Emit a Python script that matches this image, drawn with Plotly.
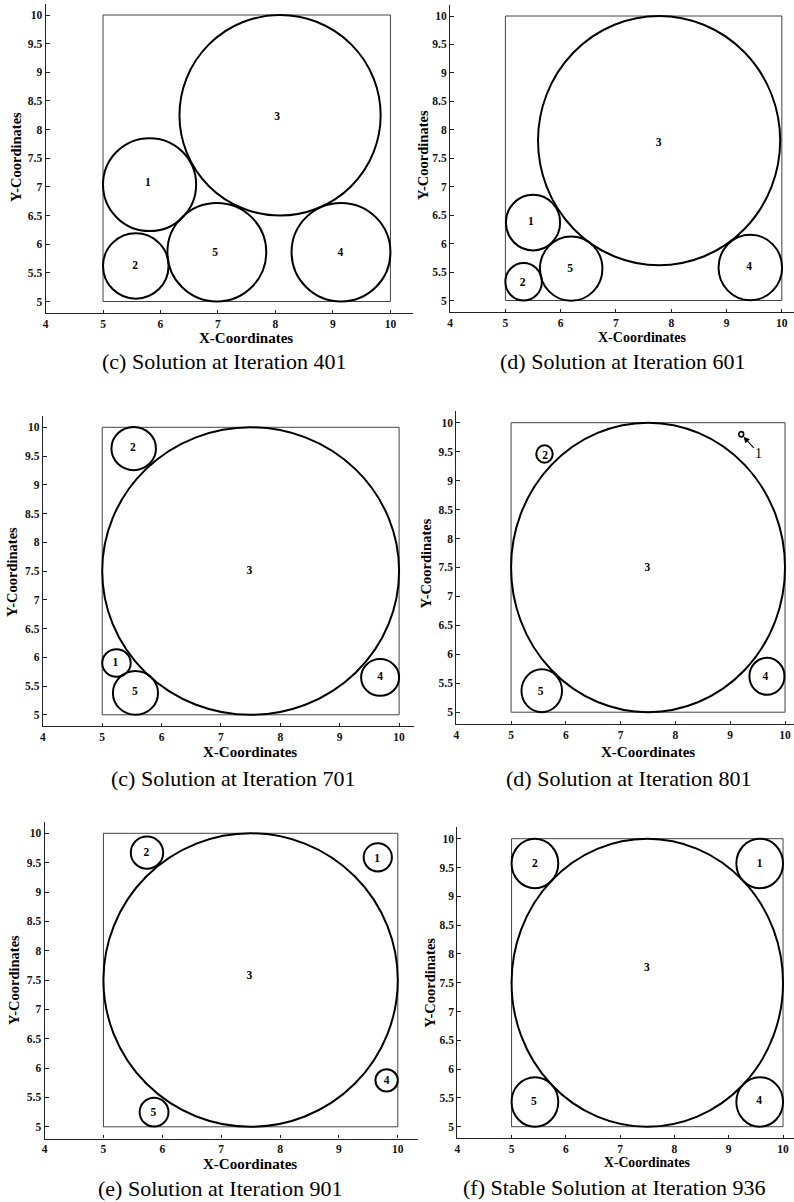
import plotly.graph_objects as go

W, H = 794, 1202

# ---------------- data ----------------
captions = [
    "(c) Solution at Iteration 401",
    "(d) Solution at Iteration 601",
    "(c) Solution at Iteration 701",
    "(d) Solution at Iteration 801",
    "(e) Solution at Iteration 901",
    "(f) Stable Solution at Iteration 936",
]
circle_ids = ["1", "2", "3", "4", "5"]

# circle centres / radii per panel (order: circle 1..5)
p401_cx = [5.81, 5.57, 8.08, 9.14, 6.98]
p401_cy = [7.04, 5.62, 8.25, 5.86, 5.86]
p401_r = [0.81, 0.57, 1.75, 0.86, 0.86]
p401_lx = [5.78, 5.56, 8.03, 9.13, 6.95]
p401_ly = [7.07, 5.62, 8.22, 5.84, 5.84]

p601_cx = [5.50, 5.33, 7.78, 9.43, 6.19]
p601_cy = [6.37, 5.33, 7.81, 5.58, 5.56]
p601_r = [0.49, 0.33, 2.19, 0.575, 0.565]
p601_lx = [5.46, 5.31, 7.77, 9.41, 6.17]
p601_ly = [6.37, 5.31, 7.77, 5.58, 5.55]

p701_cx = [5.24, 5.53, 7.50, 9.68, 5.56]
p701_cy = [5.90, 9.63, 7.50, 5.65, 5.38]
p701_r = [0.24, 0.375, 2.50, 0.32, 0.38]
p701_lx = [5.22, 5.515, 7.48, 9.68, 5.55]
p701_ly = [5.90, 9.63, 7.50, 5.65, 5.39]

p801_cx = [9.20, 5.61, 7.50, 9.67, 5.56]
p801_cy = [9.80, 9.46, 7.50, 5.62, 5.37]
p801_r = [0.045, 0.15, 2.50, 0.32, 0.37]
p801_lx = [None, 5.62, 7.49, 9.64, 5.54]
p801_ly = [None, 9.43, 7.49, 5.61, 5.34]
p801_callout_x, p801_callout_y = 9.52, 9.47   # label "1" with arrow

p901_cx = [9.66, 5.74, 7.50, 9.81, 5.86]
p901_cy = [9.59, 9.67, 7.50, 5.79, 5.25]
p901_r = [0.24, 0.275, 2.50, 0.19, 0.245]
p901_lx = [9.65, 5.73, 7.48, 9.81, 5.85]
p901_ly = [9.56, 9.67, 7.57, 5.78, 5.23]

p936_cx = [9.57, 5.43, 7.50, 9.57, 5.43]
p936_cy = [9.57, 9.57, 7.50, 5.43, 5.43]
p936_r = [0.43, 0.43, 2.50, 0.43, 0.43]
p936_lx = [9.57, 5.43, 7.49, 9.56, 5.41]
p936_ly = [9.555, 9.55, 7.75, 5.45, 5.43]

x_ticks = [4, 5, 6, 7, 8, 9, 10]
x_ticktext = ["4", "5", "6", "7", "8", "9", "10"]
y_ticks = [5, 5.5, 6, 6.5, 7, 7.5, 8, 8.5, 9, 9.5, 10]
y_ticktext = ["5", "5.5", "6", "6.5", "7", "7.5", "8", "8.5", "9", "9.5", "10"]
box_lo, box_hi = 5, 10   # container square

panels = [
    (p401_cx, p401_cy, p401_r, p401_lx, p401_ly),
    (p601_cx, p601_cy, p601_r, p601_lx, p601_ly),
    (p701_cx, p701_cy, p701_r, p701_lx, p701_ly),
    (p801_cx, p801_cy, p801_r, p801_lx, p801_ly),
    (p901_cx, p901_cy, p901_r, p901_lx, p901_ly),
    (p936_cx, p936_cy, p936_r, p936_lx, p936_ly),
]

# ---------------- layout geometry (pixels) ----------------
# (px of x=4, px per x unit, px right end, px of y=10, px per y unit)
geom = [
    (42.7, 57.7, 411.7, 15.0, 57.3),
    (448.8, 55.5, 794.0, 16.0, 56.9),
    (40.0, 59.6, 413.0, 427.3, 57.5),
    (455.0, 55.0, 794.0, 422.7, 57.9),
    (41.7, 59.1, 416.7, 833.3, 58.7),
    (456.0, 54.5, 794.0, 838.7, 57.6),
]
ytitle_pos = [(13, 157), (421.7, 155), (8.3, 571.7), (425, 563), (11, 980), (428.3, 983)]
xtitle_pos = [(244, 338), (641, 338), (247.8, 751.7), (647.5, 751.7), (247.5, 1164.3), (646, 1162.7)]
caption_pos = [(222, 362), (622, 362), (231, 778), (628, 778), (217.5, 1188), (613.8, 1187.5)]
xtitle_size = [15, 14, 15, 15, 15, 13.7]

SERIF = "Liberation Serif"

def px(x):
    return x / W

def py(y):
    return 1 - y / H

def bold(s):
    return "<b>" + s + "</b>"

fig = go.Figure()
layout = dict(
    width=W, height=H, margin=dict(l=0, r=0, t=0, b=0),
    paper_bgcolor="white", plot_bgcolor="white", showlegend=False,
)
shapes = []
annotations = []

for i, (cx, cy, r, lx, ly) in enumerate(panels):
    k = "" if i == 0 else str(i + 1)
    xr, yr = "x" + k, "y" + k
    x0p, ux, xend, y10, uy = geom[i]
    xmax = 4 + (xend - x0p) / ux
    top = y10 - 0.2 * uy
    bot = y10 + 5.2 * uy
    layout["xaxis" + k] = dict(
        domain=[px(x0p), px(xend)], range=[4, xmax], anchor=yr,
        tickvals=x_ticks, ticktext=[bold(t) for t in x_ticktext],
        ticks="inside", ticklen=3, tickcolor="#222",
        showline=True, linecolor="#222", linewidth=1.2,
        showgrid=False, zeroline=False,
        tickfont=dict(family=SERIF, size=11.5, color="#111"),
    )
    layout["yaxis" + k] = dict(
        domain=[py(bot), py(top)], range=[4.8, 10.2], anchor=xr,
        tickvals=y_ticks, ticktext=[bold(t) for t in y_ticktext],
        ticks="inside", ticklen=4,
        tickcolor="#222", showline=True, linecolor="#222", linewidth=1.2,
        showgrid=False, zeroline=False,
        tickfont=dict(family=SERIF, size=11.5, color="#111"),
    )
    # container square
    shapes.append(dict(type="rect", xref=xr, yref=yr, x0=box_lo, y0=box_lo,
                       x1=box_hi, y1=box_hi, line=dict(color="#444", width=1)))
    # circles
    for c_x, c_y, c_r in zip(cx, cy, r):
        shapes.append(dict(type="circle", xref=xr, yref=yr,
                           x0=c_x - c_r, x1=c_x + c_r, y0=c_y - c_r, y1=c_y + c_r,
                           line=dict(color="black", width=2 if c_r > 0.1 else 1.6)))
    # labels
    lab_x = [a for a in lx if a is not None]
    lab_y = [b for b in ly if b is not None]
    lab_t = [bold(t) for t, a in zip(circle_ids, lx) if a is not None]
    fig.add_trace(go.Scatter(
        x=lab_x, y=lab_y, text=lab_t, mode="text", xaxis=xr, yaxis=yr,
        textfont=dict(family=SERIF, size=11.5, color="black"),
        hoverinfo="skip",
    ))
    # axis titles and caption
    ytx, yty = ytitle_pos[i]
    annotations.append(dict(text=bold("Y-Coordinates"), x=px(ytx), y=py(yty), xref="paper", yref="paper",
                            showarrow=False, textangle=-90, xanchor="center", yanchor="middle",
                            font=dict(family=SERIF, size=14.5, color="black")))
    xtx, xty = xtitle_pos[i]
    annotations.append(dict(text=bold("X-Coordinates"), x=px(xtx), y=py(xty), xref="paper", yref="paper",
                            showarrow=False, xanchor="center", yanchor="middle",
                            font=dict(family=SERIF, size=xtitle_size[i], color="black")))
    cpx, cpy = caption_pos[i]
    annotations.append(dict(text=captions[i], x=px(cpx), y=py(cpy), xref="paper", yref="paper",
                            showarrow=False, xanchor="center", yanchor="middle",
                            font=dict(family=SERIF, size=22, color="black")))

# callout for circle 1 at iteration 801
annotations.append(dict(
    text="1", xref="x4", yref="y4", axref="x4", ayref="y4",
    x=p801_cx[0] + 0.03, y=p801_cy[0] - 0.03,
    ax=p801_callout_x, ay=p801_callout_y,
    showarrow=True, arrowhead=2, arrowsize=1.1, arrowwidth=1.1, arrowcolor="black",
    standoff=1, startstandoff=0,
    font=dict(family=SERIF, size=14, color="black"),
))

layout["shapes"] = shapes
layout["annotations"] = annotations
fig.update_layout(**layout)
fig.write_html("out.html")
